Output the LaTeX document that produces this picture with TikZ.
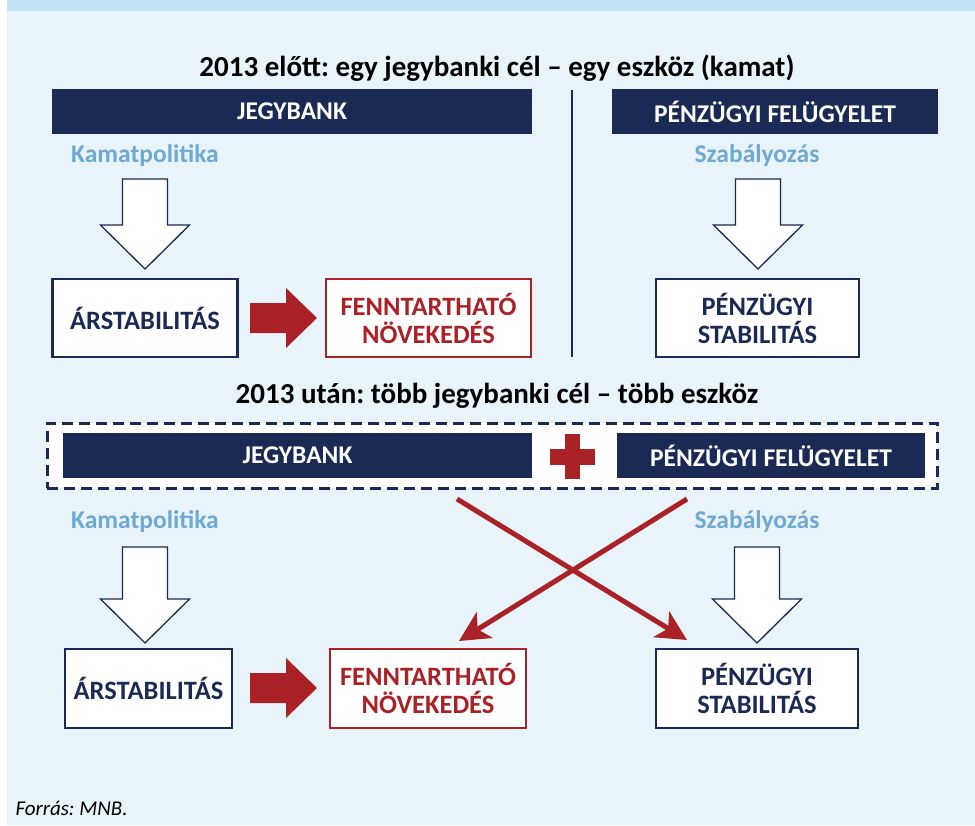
\documentclass[tikz,border=0pt]{standalone}
\usepackage{fontspec}
\setmainfont{Carlito}
\frenchspacing
\usetikzlibrary{positioning,arrows.meta}
\definecolor{mnbnavy}{HTML}{1B2A55}
\definecolor{mnbred}{HTML}{AA2126}
\definecolor{mnbsky}{HTML}{6EA9D3}
\definecolor{mnbback}{HTML}{E8F3FA}
\definecolor{mnbband}{HTML}{C2E4F4}

%hollow arrow pointing down: x, top of shaft, tip
\newcommand{\hollowdown}[3]{%
\filldraw[draw=mnbnavy,fill=white,line width=1.3pt,line join=miter]
(#1-22.5,#2) -- (#1+22.5,#2) -- (#1+22.5,#3-44) -- (#1+44.5,#3-44) -- (#1,#3)
-- (#1-44.5,#3-44) -- (#1-22.5,#3-44) -- cycle;}
%fat red arrow pointing right: tail x, middle y
\newcommand{\fatright}[2]{%
\fill[mnbred] (#1,#2-15) -- (#1+36,#2-15) -- (#1+36,#2-30) -- (#1+67,#2)
-- (#1+36,#2+30) -- (#1+36,#2+15) -- (#1,#2+15) -- cycle;}

\begin{document}
\begin{tikzpicture}[x=1pt,y=-1pt]
\tikzstyle{bar}=[fill=mnbnavy,text=white,inner sep=0pt,minimum height=45pt,font=\bfseries\fontsize{25.5}{30}\selectfont]
\tikzstyle{tool}=[text=mnbsky,font=\bfseries\fontsize{25.5}{30}\selectfont]
\tikzstyle{goal}=[draw=mnbnavy,fill=white,line width=2.8pt,text=mnbnavy,align=center,inner sep=0pt,font=\bfseries\fontsize{26.5}{28}\selectfont]
\tikzstyle{headline}=[text=black,font=\bfseries\fontsize{29}{34}\selectfont]

%background
\useasboundingbox (0,0) rectangle (975,825);
\fill[white] (0,0) rectangle (975,825);
\fill[mnbback] (7,11) rectangle (975,825);
\fill[mnbband] (7,0) rectangle (975,11);

%before 2013
\node[headline] (title1) at (497,68) {2013 előtt: egy jegybanki cél -- egy eszköz (kamat)};
\node[bar,minimum width=480pt] (jb1) at (292,111.5) {JEGYBANK};
\node[bar,minimum width=326pt] (pf1) at (775,111.5) {PÉNZÜGYI FELÜGYELET};
\draw[mnbnavy,line width=2pt] (572,90) -- (572,357);

\node[tool] (kp1) at (145,156) {Kamatpolitika};
\node[tool] (sz1) at (757,156) {Szabályozás};
\hollowdown{145}{179}{269}
\hollowdown{758}{179}{269}

\node[goal,minimum width=185pt,minimum height=78pt] (ar1) at (145,318) {ÁRSTABILITÁS};
\node[goal,draw=mnbred,text=mnbred,minimum width=205pt,minimum height=78pt] (fn1) at (428.5,318) {FENNTARTHATÓ\\NÖVEKEDÉS};
\node[goal,minimum width=203pt,minimum height=78pt] (ps1) at (757.5,318) {PÉNZÜGYI\\STABILITÁS};
\fatright{250}{318}

%after 2013
\node[headline] (title2) at (497,396) {2013 után: több jegybanki cél -- több eszköz};
\node[draw=mnbnavy,fill=white,line width=3pt,dash pattern=on 11pt off 6pt,inner sep=0pt,minimum width=890pt,minimum height=65pt] (both) at (492,455.5) {};
\node[bar,minimum width=469pt] (jb2) at (297.5,455.5) {JEGYBANK};
\node[bar,minimum width=308pt] (pf2) at (771,455.5) {PÉNZÜGYI FELÜGYELET};
\fill[mnbred] (550,449) rectangle (595,465);
\fill[mnbred] (565,434) rectangle (580,479);

\node[tool] (kp2) at (145,522) {Kamatpolitika};
\node[tool] (sz2) at (757,522) {Szabályozás};
\hollowdown{145}{547}{643}
\hollowdown{757}{547}{643}

\node[goal,minimum width=167pt,minimum height=79pt] (ar2) at (148.5,688.5) {ÁRSTABILITÁS};
\node[goal,draw=mnbred,text=mnbred,minimum width=196pt,minimum height=79pt] (fn2) at (428,688.5) {FENNTARTHATÓ\\NÖVEKEDÉS};
\node[goal,minimum width=202pt,minimum height=79pt] (ps2) at (757,688.5) {PÉNZÜGYI\\STABILITÁS};
\fatright{250}{688}

%crossing arrows
\coordinate (jbout) at (457,499);
\coordinate (pfout) at (687,499);
\coordinate (psin) at (687,640);
\coordinate (fnin) at (459,641);
\draw[mnbred,line width=5pt,-{Stealth[length=30pt,width=30pt,inset=8pt]}] (jbout) -- (psin);
\draw[mnbred,line width=5pt,-{Stealth[length=30pt,width=30pt,inset=8pt]}] (pfout) -- (fnin);

\node[anchor=west,font=\itshape\fontsize{21}{24}\selectfont] (src) at (12,808) {Forrás: MNB.};
\end{tikzpicture}
\end{document}
